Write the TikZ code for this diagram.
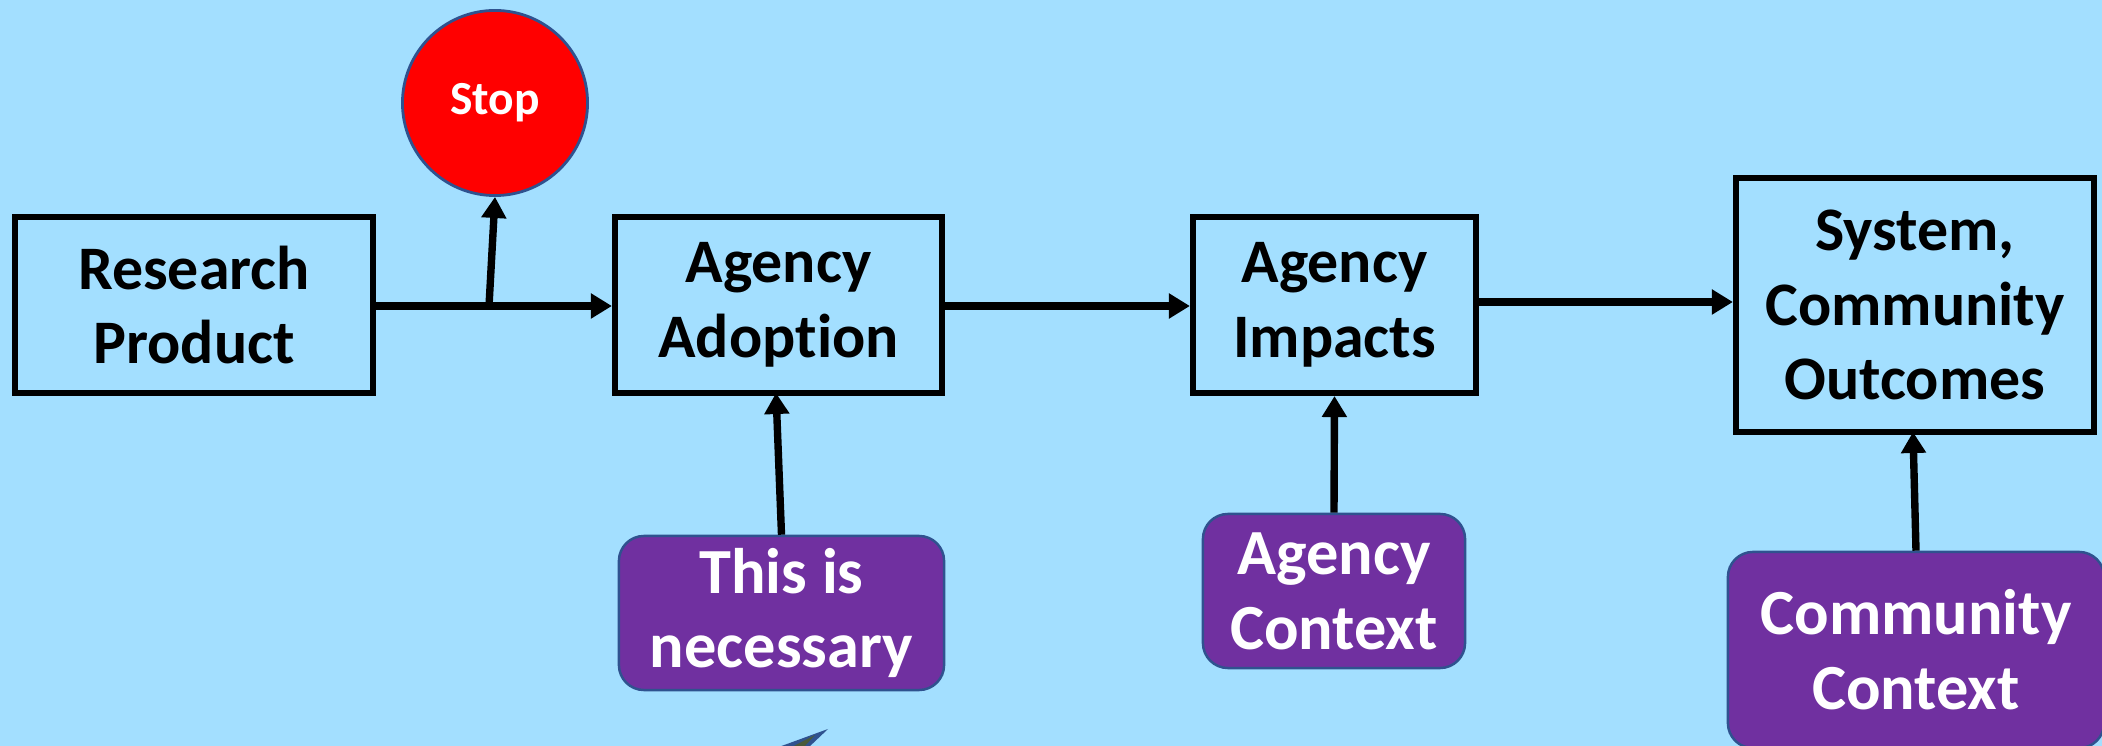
\documentclass[tikz,border=0pt]{standalone}
\usepackage{fontspec}
\setmainfont{Carlito}[RawFeature=-liga, RawFeature=-calt, RawFeature=-clig, RawFeature=-dlig]
\usetikzlibrary{arrows.meta}
\definecolor{bgblue}{HTML}{A3DFFF}
\definecolor{ctxpurple}{HTML}{7030A0}
\definecolor{edgeblue}{HTML}{2F528F}
\definecolor{wedgeolive}{HTML}{4A5A3A}
\tikzset{
  stagebox/.style={draw=black, line width=1.7pt, fill=none, align=center, inner sep=0pt,
    font=\bfseries\fontsize{17.6}{21.3}\selectfont, text=black},
  ctxbox/.style={draw=edgeblue, line width=0.7pt, fill=ctxpurple, rounded corners=0.25cm, align=center,
    inner sep=0pt, font=\bfseries\fontsize{18.3}{21.3}\selectfont, text=white},
  stopdisc/.style={circle, draw=edgeblue, line width=0.8pt, fill=red, inner sep=0pt,
    font=\bfseries\fontsize{13.5}{16}\selectfont, text=white},
  flow/.style={draw=black, line width=2.1pt, -{Triangle[length=0.21cm, width=0.24cm]}},
}
\begin{document}
\begin{tikzpicture}[x=0.01cm, y=-0.01cm]
\useasboundingbox (0,0) rectangle (2102,746);
\clip (0,0) rectangle (2102,746);
\fill[bgblue] (0,0) rectangle (2102,746);

\node[stagebox, minimum width=3.58cm, minimum height=1.76cm] (rp) at (194,305) {Research\\Product};
\node[stagebox, minimum width=3.27cm, minimum height=1.76cm] (aa) at (778.5,305) {Agency\\Adop\kern0pt t\kern0pt ion};
\node[stagebox, minimum width=2.83cm, minimum height=1.76cm] (ai) at (1334.5,305) {Agency\\Impacts};
\node[stagebox, minimum width=3.58cm, minimum height=2.54cm] (sys) at (1915,305) {System,\\Community\\Outcomes};

\node[stopdisc, minimum size=1.85cm] (stop) at (495,103) {Stop};

\node[ctxbox, minimum width=3.25cm, minimum height=1.54cm] (nec) at (781.5,613) {This is\\necessary};
\node[ctxbox, minimum width=2.62cm, minimum height=1.54cm] (ac) at (1334,591) {Agency\\Context};
\node[ctxbox, minimum width=3.76cm, minimum height=1.96cm] (cc) at (1916,650) {Community\\Context};

\coordinate (branch) at (489,306);

\draw[flow] (rp.east |- 0,306) -- (aa.west |- 0,306);
\draw[flow] (branch) -- (stop.south);
\draw[flow] (aa.east |- 0,306) -- (ai.west |- 0,306);
\draw[flow] (ai.east |- 0,302) -- (sys.west |- 0,302);
\draw[flow] (nec.north) -- (776,393);
\draw[flow] (ac.north) -- (ai.south);
\draw[flow] (cc.north) -- (1913,432);

\fill[edgeblue] (828,729) -- (776,748) -- (808,748) -- cycle;
\fill[wedgeolive] (815,735) -- (790,748) -- (803,748) -- cycle;
\end{tikzpicture}
\end{document}
